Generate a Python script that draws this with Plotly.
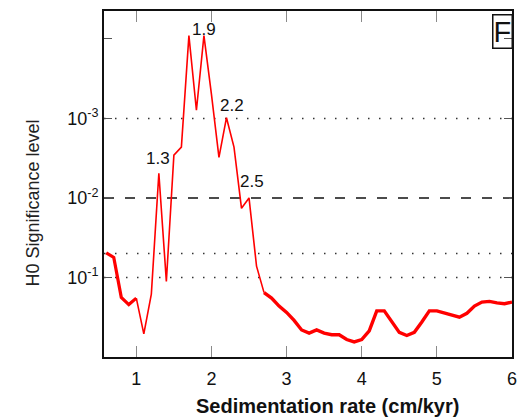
import numpy as np
import plotly.graph_objects as go

# Sedimentation rate (cm/kyr) and H0 significance level
rate = [0.6, 0.7, 0.8, 0.9, 1.0, 1.1, 1.2, 1.3, 1.4, 1.5, 1.6, 1.7, 1.8, 1.9, 2.0,
        2.1, 2.2, 2.3, 2.4, 2.5, 2.6, 2.7, 2.8, 2.9, 3.0, 3.1, 3.2, 3.3, 3.4, 3.5,
        3.6, 3.7, 3.8, 3.9, 4.0, 4.1, 4.2, 4.3, 4.4, 4.5, 4.6, 4.7, 4.8, 4.9, 5.0,
        5.1, 5.2, 5.3, 5.4, 5.5, 5.6, 5.7, 5.8, 5.9, 6.0]
signif = [0.049, 0.056, 0.178, 0.219, 0.182, 0.513, 0.162, 0.0049, 0.112, 0.0029,
          0.0023, 0.000091, 0.00079, 0.000091, 0.0005, 0.0031, 0.00098, 0.0023,
          0.0135, 0.0100, 0.072, 0.155, 0.182, 0.229, 0.275, 0.347, 0.457, 0.50,
          0.457, 0.50, 0.525, 0.525, 0.603, 0.646, 0.603, 0.468, 0.263, 0.263,
          0.363, 0.49, 0.537, 0.49, 0.363, 0.263, 0.263, 0.282, 0.302, 0.316,
          0.282, 0.229, 0.204, 0.2, 0.209, 0.214, 0.204]

# Labelled peaks and label offsets (px)
peak_rates = [1.3, 1.9, 2.2, 2.5]
peak_shift = [(-1, 15), (0, 6), (6, 12), (3, 16)]

# Reference significance levels
dotted_levels = [1e-3, 0.05, 0.1]
dashed_levels = [1e-2]

ytick_vals = [1e-4, 1e-3, 1e-2, 1e-1]
ytick_text = ["", "10<sup>-3</sup>", "10<sup>-2</sup>", "10<sup>-1</sup>"]

FONT = "Liberation Sans, Arial, sans-serif"

r = np.array(rate)
s = np.array(signif)
fig = go.Figure()

for lv in dotted_levels:
    fig.add_trace(go.Scatter(x=[0.57, 6.0], y=[lv, lv], mode="lines",
                             line=dict(color="#333333", width=1.5, dash="1.5px,9.5px"),
                             hoverinfo="skip", showlegend=False))
for lv in dashed_levels:
    fig.add_trace(go.Scatter(x=[0.57, 6.0], y=[lv, lv], mode="lines",
                             line=dict(color="#111111", width=1.5, dash="10px,11px"),
                             hoverinfo="skip", showlegend=False))

# thick outer parts, thin central part
lo = r <= 1.0 + 1e-9
mid = (r >= 1.0 - 1e-9) & (r <= 2.7 + 1e-9)
hi = r >= 2.7 - 1e-9
for mask, w in [(lo, 3.2), (mid, 1.6), (hi, 3.4)]:
    fig.add_trace(go.Scatter(x=r[mask], y=s[mask], mode="lines",
                             line=dict(color="#ff0000", width=w),
                             showlegend=False))

for pr, (dx, dy) in zip(peak_rates, peak_shift):
    i = int(np.argmin(np.abs(r - pr)))
    fig.add_annotation(x=pr, y=np.log10(s[i]), text=f"{pr:.1f}", showarrow=False,
                       xshift=dx, yshift=dy, yanchor="middle",
                       font=dict(family=FONT, size=17, color="#111111"))

fig.add_annotation(x=1.002, y=0.99, xref="paper", yref="paper", text="F",
                   showarrow=False, xanchor="right", yanchor="top",
                   bordercolor="#111111", borderwidth=1.5, borderpad=0,
                   font=dict(family=FONT, size=29, color="#111111"))

fig.add_annotation(x=-0.203, y=0.444, xref="paper", yref="paper",
                   text="H0 Significance level", textangle=-90, showarrow=False,
                   font=dict(family=FONT, size=18, color="#222222"))
fig.add_annotation(x=0.547, y=-0.143, xref="paper", yref="paper",
                   text="<b>Sedimentation rate (cm/kyr)</b>", showarrow=False,
                   yanchor="middle",
                   font=dict(family=FONT, size=20, color="#111111"))

fig.update_layout(
    width=526, height=419,
    margin=dict(l=104, r=9, t=10, b=62),
    paper_bgcolor="white", plot_bgcolor="white",
    font=dict(family=FONT, color="#111111"),
    showlegend=False,
)
fig.update_xaxes(range=[0.57, 6.0], tickvals=[1, 2, 3, 4, 5, 6],
                 ticks="inside", ticklen=11, tickcolor="#8a8a8a", tickwidth=1.2,
                 showline=True, linecolor="#111111", linewidth=2, mirror="ticks",
                 showgrid=False, zeroline=False, ticklabelstandoff=4,
                 tickfont=dict(family=FONT, size=18, color="#111111"))
fig.update_yaxes(type="log", range=[0, -4.35], autorange=False,
                 tickvals=ytick_vals, ticktext=ytick_text,
                 ticks="inside", ticklen=8, tickcolor="#555555", tickwidth=1.2,
                 showline=True, linecolor="#111111", linewidth=2, mirror="ticks",
                 showgrid=False, zeroline=False, ticklabelstandoff=0,
                 tickfont=dict(family=FONT, size=18, color="#111111"))

fig.write_html("out.html")
